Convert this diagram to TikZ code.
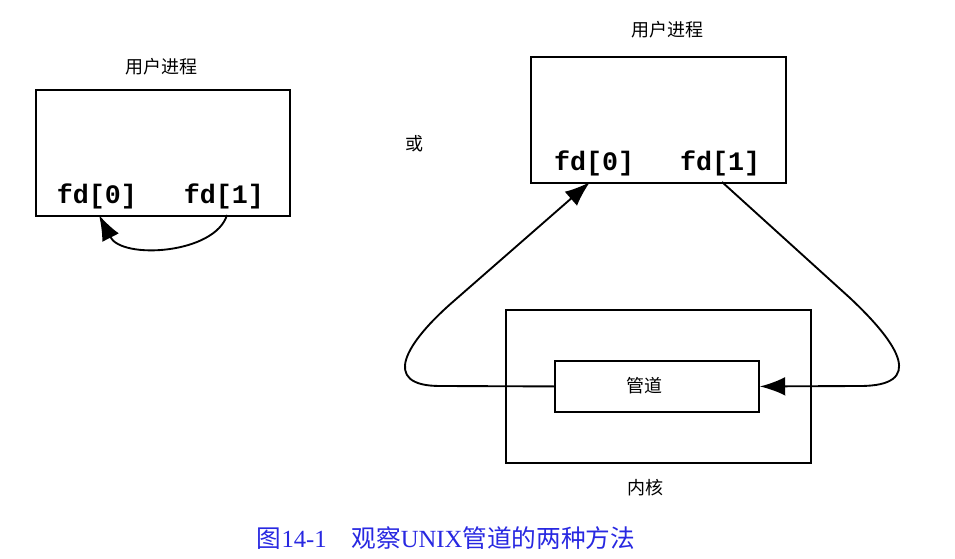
\documentclass[tikz,border=0pt]{standalone}
\usepackage{fontspec}
\setmainfont{Liberation Serif}
\newfontfamily\cjk{Noto Sans CJK SC}
\newfontfamily\codefont{Liberation Mono}
\usetikzlibrary{arrows.meta}
\definecolor{capblue}{RGB}{40,40,225}
\begin{document}
\begin{tikzpicture}[x=0.75pt,y=-0.75pt,
  box/.style={draw,line width=1.4pt,inner sep=0pt,anchor=north west},
  fdlabel/.style={font=\codefont\bfseries\fontsize{20pt}{22pt}\selectfont,inner sep=0pt},
  zhlabel/.style={font=\cjk\fontsize{13.5pt}{15pt}\selectfont,inner sep=0pt},
  link/.style={line width=1.4pt},
  arr/.style={link,-{Latex[length=19pt,width=14pt]}}]
\useasboundingbox (0,0) rectangle (955,559);

% left: a process talking to itself
\node[box,minimum width=254*0.75pt,minimum height=126*0.75pt] (lbox) at (35,89) {};
\node[zhlabel] (ltitle) at (161,67) {用户进程};
\node[fdlabel] (lfd0) at (97,196) {fd[0]};
\node[fdlabel] (lfd1) at (224,196) {fd[1]};
\coordinate (l0) at (99,215);
\coordinate (l1) at (227,215);
\draw[arr] (l1) .. controls (215,254) and (122,260) .. (l0);

\node[font=\cjk\fontsize{13.5pt}{15pt}\selectfont,inner sep=0pt] (or) at (414,144) {或};

% right: process and kernel pipe
\node[box,minimum width=255*0.75pt,minimum height=126*0.75pt] (rbox) at (530,56) {};
\node[zhlabel] (rtitle) at (667,30) {用户进程};
\node[fdlabel] (rfd0) at (594,163) {fd[0]};
\node[fdlabel] (rfd1) at (720,163) {fd[1]};
\coordinate (r0) at (590,182);
\coordinate (r1) at (722,182);

\node[box,minimum width=305*0.75pt,minimum height=153*0.75pt] (kernel) at (505,309) {};
\node[zhlabel] (ktitle) at (645,488) {内核};
\node[box,minimum width=204*0.75pt,minimum height=51*0.75pt] (pipe) at (554,360) {};
\node[zhlabel] (ptitle) at (644,386) {管道};

\draw[arr] (r1) -- (850,298) .. controls (900,345) and (925,386) .. (860,386) -- (pipe.east);
\draw[arr] (pipe.west) -- (440,386) .. controls (380,386) and (405,343) .. (455,300) -- (r0);

% caption
\node[font=\fontsize{18.5pt}{20pt}\selectfont,text=capblue,inner sep=0pt] (caption) at (446,538)
  {{\cjk 图}14-1\hspace{1em}{\cjk 观察}UNIX{\cjk 管道的两种方法}};
\end{tikzpicture}
\end{document}
